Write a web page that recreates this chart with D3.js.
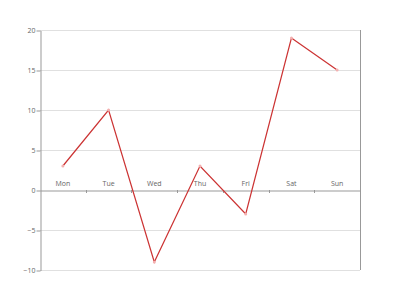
<!DOCTYPE html>
<html>
<head>
<meta charset="utf-8">
<script src="https://cdn.jsdelivr.net/npm/d3@7"></script>
<style>
  body { margin: 0; background: #fff; }
  text { font-family: 'Open Sans', sans-serif; }
</style>
</head>
<body>
<script>
const days = ['Mon', 'Tue', 'Wed', 'Thu', 'Fri', 'Sat', 'Sun']
const values = [3, 10, -9, 3, -3, 19, 15]
const yTicks = [-10, -5, 0, 5, 10, 15, 20]

const W = 400, H = 300
const mLeft = 40, mRight = 360, mTop = 30, mBottom = 270

const x = d3.scaleBand().domain(days).range([mLeft, mRight])
const y = d3.scaleLinear().domain([-10, 20]).range([mBottom, mTop])

const svg = d3.select('body')
  .append('svg')
  .attr('width', W)
  .attr('height', H)

// grid
svg.append('g')
  .selectAll('line')
  .data(yTicks.filter(d => d !== 0))
  .enter()
  .append('line')
  .attr('x1', mLeft)
  .attr('x2', mRight)
  .attr('y1', d => Math.round(y(d)) + 0.5)
  .attr('y2', d => Math.round(y(d)) + 0.5)
  .attr('stroke', '#e0e0e0')
  .attr('stroke-width', 1)

// right border
svg.append('line')
  .attr('x1', mRight + 0.5)
  .attr('x2', mRight + 0.5)
  .attr('y1', mTop)
  .attr('y2', mBottom)
  .attr('stroke', '#999')

// y axis
const yAxis = svg.append('g')
  .attr('transform', `translate(${mLeft + 0.5},0.5)`)
  .call(d3.axisLeft(y).tickValues(yTicks).tickSize(4).tickSizeOuter(0))
yAxis.select('.domain').attr('stroke', '#999')
yAxis.selectAll('.tick line').attr('stroke', '#999')
yAxis.selectAll('.tick text')
  .attr('fill', '#666')
  .attr('font-size', 7)
  .attr('font-family', 'Open Sans, sans-serif')
  .attr('x', -5)

// x axis at zero
const xAxis = svg.append('g')
  .attr('transform', `translate(0,${Math.round(y(0)) + 0.5})`)
  .call(d3.axisBottom(x).tickSize(0).tickSizeOuter(0))
xAxis.select('.domain').attr('stroke', '#999')
xAxis.selectAll('.tick text')
  .attr('fill', '#666')
  .attr('font-size', 7)
  .attr('font-family', 'Open Sans, sans-serif')
  .attr('y', -5)
  .attr('dy', 0)

// band boundary ticks
svg.append('g')
  .selectAll('line')
  .data(days.slice(1))
  .enter()
  .append('line')
  .attr('x1', d => Math.round(x(d)) + 0.5)
  .attr('x2', d => Math.round(x(d)) + 0.5)
  .attr('y1', Math.round(y(0)))
  .attr('y2', Math.round(y(0)) + 3)
  .attr('stroke', '#999')

// line
const line = d3.line()
  .x((d, i) => x(days[i]) + x.bandwidth() / 2)
  .y(d => y(d))

svg.append('path')
  .datum(values)
  .attr('d', line)
  .attr('fill', 'none')
  .attr('stroke', '#cc3333')
  .attr('stroke-width', 1.2)

svg.append('g')
  .selectAll('circle')
  .data(values)
  .enter()
  .append('circle')
  .attr('cx', (d, i) => x(days[i]) + x.bandwidth() / 2)
  .attr('cy', d => y(d))
  .attr('r', 1.5)
  .attr('fill', '#f3b0b0')
  .attr('stroke', 'none')
</script>
</body>
</html>
